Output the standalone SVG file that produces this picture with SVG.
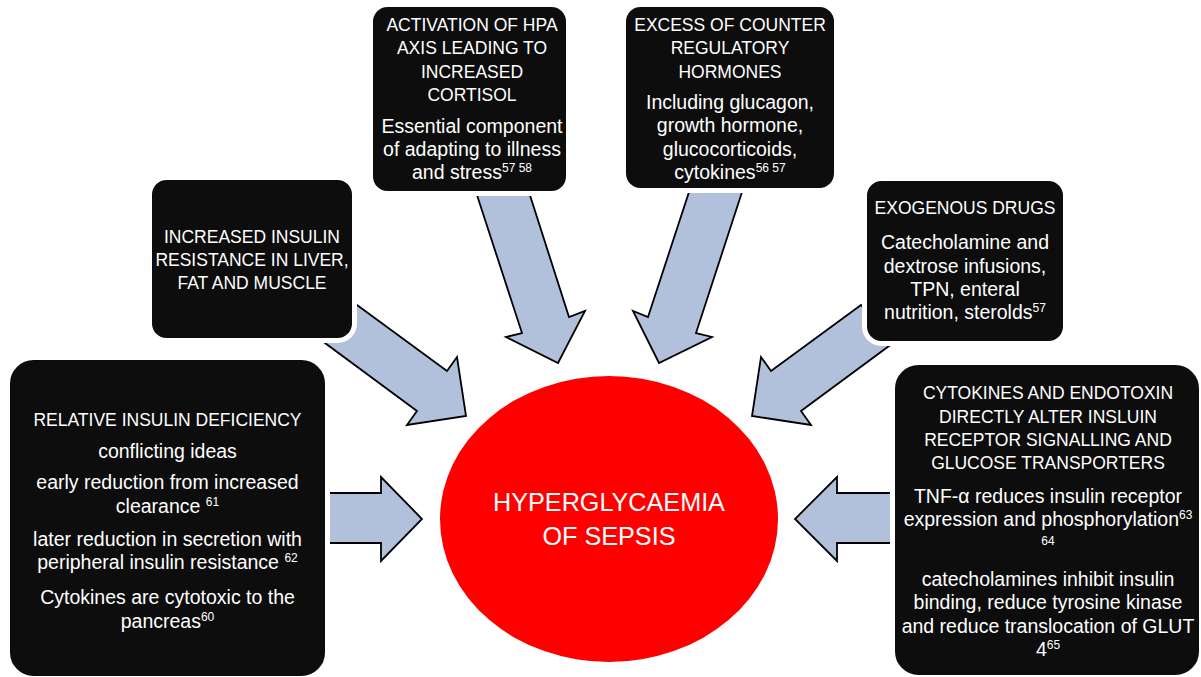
<svg xmlns="http://www.w3.org/2000/svg" width="1201" height="677" viewBox="0 0 1201 677">
<style>
.box{fill:#0d0d0d;stroke:#ffffff;stroke-width:5}
.arr{fill:#b1c1dc;stroke:#000000;stroke-width:1.8;stroke-linejoin:miter}
.h{font-family:"Liberation Sans",Arial,sans-serif;font-size:17.5px;fill:#ffffff;text-anchor:middle}
.b{font-family:"Liberation Sans",Arial,sans-serif;font-size:19.5px;fill:#ffffff;text-anchor:middle}
.sup{font-size:12px}
.c{font-family:"Liberation Sans",Arial,sans-serif;font-size:25.2px;fill:#ffffff;text-anchor:middle}
</style>
<rect width="1201" height="677" fill="#ffffff"/>
<g id="connectors">
<polygon class="arr" points="357,305 447,371 457,357 466,416 407,425 417,411 325,343"/>
<polygon class="arr" points="861,305 771,371 761,357 752,416 811,425 801,411 893,343"/>
<polygon class="arr" points="474,186 527,186 569,317 585,311 558,363 506,337 522,333"/>
<polygon class="arr" points="691,186 744,186 696,333 712,337 659,363 633,311 648,317"/>
<polygon class="arr" points="320,493 381,493 381,477 422,519 381,561 381,543 320,543"/>
<polygon class="arr" points="900,493 837,493 837,477 795,519 837,561 837,543 900,543"/>
</g>
<g id="center">
<ellipse cx="609" cy="519" rx="169" ry="143" fill="#ff0000"/>
<text class="c" x="609" y="511">HYPERGLYCAEMIA</text>
<text class="c" x="609" y="545">OF SEPSIS</text>
</g>
<g id="hpa">
<rect class="box" x="370.5" y="4.5" width="198" height="189" rx="17"/>
<text class="h" x="472" y="31">ACTIVATION OF HPA</text>
<text class="h" x="472" y="54">AXIS LEADING TO</text>
<text class="h" x="472" y="78">INCREASED</text>
<text class="h" x="472" y="101">CORTISOL</text>
<text class="b" x="472" y="133">Essential component</text>
<text class="b" x="472" y="156">of adapting to illness</text>
<text class="b" x="472" y="179">and stress<tspan class="sup" dy="-7">57 58</tspan></text>
</g>
<g id="counter">
<rect class="box" x="623.5" y="4.5" width="213" height="186" rx="17"/>
<text class="h" x="730" y="31">EXCESS OF COUNTER</text>
<text class="h" x="730" y="54">REGULATORY</text>
<text class="h" x="730" y="78">HORMONES</text>
<text class="b" x="730" y="109">Including glucagon,</text>
<text class="b" x="730" y="132">growth hormone,</text>
<text class="b" x="730" y="156">glucocorticoids,</text>
<text class="b" x="730" y="179">cytokines<tspan class="sup" dy="-7">56 57</tspan></text>
</g>
<g id="resistance">
<rect class="box" x="149.5" y="177.5" width="205" height="163" rx="17"/>
<text class="h" x="252" y="243">INCREASED INSULIN</text>
<text class="h" x="252" y="266">RESISTANCE IN LIVER,</text>
<text class="h" x="252" y="289">FAT AND MUSCLE</text>
</g>
<g id="drugs">
<rect class="box" x="864.5" y="178.5" width="201" height="165" rx="17"/>
<text class="h" x="965" y="214">EXOGENOUS DRUGS</text>
<text class="b" x="965" y="249">Catecholamine and</text>
<text class="b" x="965" y="273">dextrose infusions,</text>
<text class="b" x="965" y="296">TPN, enteral</text>
<text class="b" x="965" y="319">nutrition, sterolds<tspan class="sup" dy="-7">57</tspan></text>
</g>
<g id="deficiency">
<rect class="box" x="7.5" y="357.5" width="320" height="321" rx="26"/>
<text class="h" x="167.5" y="426">RELATIVE INSULIN DEFICIENCY</text>
<text class="b" x="167.5" y="458">conflicting ideas</text>
<text class="b" x="167.5" y="489">early reduction from increased</text>
<text class="b" x="167.5" y="513">clearance <tspan class="sup" dy="-7">61</tspan></text>
<text class="b" x="167.5" y="546">later reduction in secretion with</text>
<text class="b" x="167.5" y="569">peripheral insulin resistance <tspan class="sup" dy="-7">62</tspan></text>
<text class="b" x="167.5" y="604">Cytokines are cytotoxic to the</text>
<text class="b" x="167.5" y="628">pancreas<tspan class="sup" dy="-7">60</tspan></text>
</g>
<g id="cytokines">
<rect class="box" x="892.5" y="362.5" width="309" height="315" rx="26"/>
<text class="h" x="1048" y="399">CYTOKINES AND ENDOTOXIN</text>
<text class="h" x="1048" y="423">DIRECTLY ALTER INSLUIN</text>
<text class="h" x="1048" y="446">RECEPTOR SIGNALLING AND</text>
<text class="h" x="1048" y="469">GLUCOSE TRANSPORTERS</text>
<text class="b" x="1048" y="503">TNF-α reduces insulin receptor</text>
<text class="b" x="1048" y="526">expression and phosphorylation<tspan class="sup" dy="-7">63</tspan></text>
<text class="b" x="1048" y="545"><tspan class="sup">64</tspan></text>
<text class="b" x="1048" y="586">catecholamines inhibit insulin</text>
<text class="b" x="1048" y="609">binding, reduce tyrosine kinase</text>
<text class="b" x="1048" y="633">and reduce translocation of GLUT</text>
<text class="b" x="1048" y="656">4<tspan class="sup" dy="-7">65</tspan></text>
</g>
</svg>
